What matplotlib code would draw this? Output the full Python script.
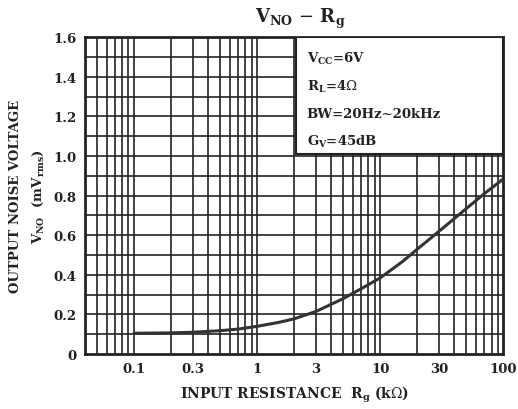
import numpy as np
import matplotlib
matplotlib.use("Agg")
import matplotlib.pyplot as plt
from matplotlib.patches import Rectangle

plt.rcParams['font.family'] = ['DejaVu Serif']
plt.rcParams['mathtext.fontset'] = 'dejavuserif'

# data
rg_kohm = [0.1, 0.2, 0.3, 0.5, 0.7, 1, 1.5, 2, 3, 5, 7, 10, 15, 20, 30, 50, 70, 100]
vno_mv = [0.105, 0.107, 0.11, 0.118, 0.126, 0.14, 0.16, 0.178, 0.215, 0.28, 0.33, 0.385,
          0.465, 0.53, 0.62, 0.735, 0.81, 0.885]
x_ticks = [0.1, 0.3, 1, 3, 10, 30, 100]
x_tick_labels = ['0.1', '0.3', '1', '3', '10', '30', '100']
y_ticks = [0, 0.2, 0.4, 0.6, 0.8, 1.0, 1.2, 1.4, 1.6]
y_tick_labels = ['0', '0.2', '0.4', '0.6', '0.8', '1.0', '1.2', '1.4', '1.6']
conditions = [r'$\mathregular{V_{CC}}$=6V', r'$\mathregular{R_L}$=4$\Omega$',
              'BW=20Hz~20kHz', r'$\mathregular{G_V}$=45dB']

fig = plt.figure(figsize=(5.18, 4.10), dpi=100)
ax = fig.add_axes([0.164, 0.134, 0.808, 0.773])

ax.set_xscale('log')
ax.set_xlim(0.04, 100)
ax.set_ylim(0, 1.6)

# grid lines
grid_x = [m * 10.0 ** e for e in range(-2, 2) for m in range(1, 10)]
grid_x = [g for g in grid_x if 0.04 <= g <= 100]
for g in grid_x:
    ax.axvline(g, color='#222222', lw=1.2, zorder=1)
for g in np.arange(0.1, 1.6, 0.1):
    ax.axhline(g, color='#222222', lw=1.2, zorder=1)

ax.plot(rg_kohm, vno_mv, color='#333333', lw=2.2, zorder=3, solid_capstyle='round')

ax.set_xticks(x_ticks)
ax.set_xticklabels(x_tick_labels)
ax.xaxis.set_minor_locator(matplotlib.ticker.NullLocator())
ax.set_yticks(y_ticks)
ax.set_yticklabels(y_tick_labels)
ax.tick_params(length=0, labelsize=9.5, pad=6)
for lbl in ax.get_xticklabels() + ax.get_yticklabels():
    lbl.set_fontweight('bold')
    lbl.set_color('#222222')
for s in ax.spines.values():
    s.set_linewidth(2)
    s.set_color('#222222')

# conditions box
box = Rectangle((0.505, 0.63), 0.495, 0.37, transform=ax.transAxes, facecolor='white',
                edgecolor='#222222', lw=1.5, zorder=4)
ax.add_patch(box)
for i, txt in enumerate(conditions):
    ax.text(0.53, 0.935 - i * 0.088, txt, transform=ax.transAxes, fontsize=9.5,
            fontweight='bold', color='#222222', va='center', zorder=5)

ax.set_xlabel(r'INPUT RESISTANCE  $\mathregular{R_g}$ (k$\Omega$)', fontsize=10,
              fontweight='bold', color='#222222', labelpad=6)
fig.text(0.03, 0.52, 'OUTPUT NOISE VOLTAGE', rotation=90, ha='center', va='center',
         fontsize=9.5, fontweight='bold', color='#222222')
fig.text(0.075, 0.52, r'$\mathregular{V_{NO}}$  (m$\mathregular{V_{rms}}$)', rotation=90,
         ha='center', va='center', fontsize=9.5, fontweight='bold', color='#222222')
fig.text(0.58, 0.955, r'$\mathregular{V_{NO}}$ $-$ $\mathregular{R_g}$', ha='center',
         va='center', fontsize=13, fontweight='bold', color='#222222')

fig.savefig('out.png', dpi=100, facecolor='white')
